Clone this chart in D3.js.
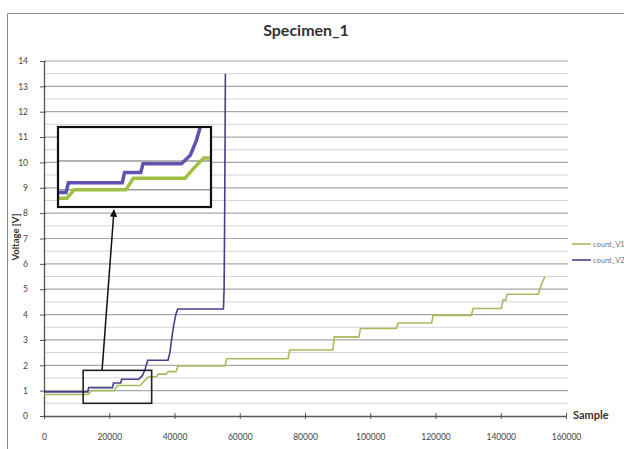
<!DOCTYPE html>
<head>
  <title>Specimen_1</title>
  <meta charset="utf-8">
  <script src="https://d3js.org/d3.v7.min.js"></script>
  <style>
    body { margin: 0; background: #fff; }
    text { font-family: Lato, "Liberation Sans", sans-serif; }
    .tick text { fill: #444; font-size: 8.5px; }
    .grid-major { stroke: #a8a8a8; stroke-width: 1.2; }
    .grid-minor { stroke: #d4d4d4; stroke-width: 1; }
  </style>
</head>
<body>
  <div class="container"></div>
  <script>
'use strict';
var width = 624;
var height = 449;

// tick labels
var xTicks = [0, 20000, 40000, 60000, 80000, 100000, 120000, 140000, 160000];
var yTicks = d3.range(0, 15);

// series: [sample, voltage]
var seriesNames = ['count_V1', 'count_V2'];
var greenPts = [[0,0.85],[13500,0.85],[14500,1.0],[21500,1.0],[22500,1.2],[29500,1.2],[30500,1.35],[32000,1.55],
  [34500,1.55],[35000,1.65],[37500,1.65],[38000,1.75],[40500,1.75],[41000,1.97],[55500,1.97],[56000,2.26],
  [74800,2.26],[75300,2.6],[88500,2.6],[89000,3.12],[96500,3.12],[97000,3.45],[108000,3.45],[108500,3.67],
  [118800,3.67],[119300,3.97],[131000,3.97],[131500,4.24],[140200,4.24],[140700,4.57],[141500,4.57],
  [142000,4.8],[151500,4.8],[152500,5.2],[153500,5.5]];
var bluePts = [[0,0.95],[13400,0.95],[13700,1.12],[21000,1.12],[21300,1.3],[23500,1.3],[23800,1.45],[29000,1.45],
  [30200,1.6],[31000,1.85],[31800,2.2],[38000,2.2],[38600,2.5],[39200,3.1],[39800,3.6],[40400,4.0],[41000,4.22],
  [55000,4.22],[55200,5.0],[55300,6.5],[55400,8.5],[55500,11],[55600,13.5]];

// zoom box (data coords) and inset view domain
var boxX = [12000, 33000];
var boxY = [0.5, 1.8];
var insetX = [12300, 33000];
var insetY = [0.7, 2.09];

var svg = d3.select('.container')
  .append('svg')
  .attr('width', width)
  .attr('height', height);

// outer chart frame
svg.append('path')
  .attr('d', 'M7.5,' + height + 'V13.5H' + width)
  .attr('fill', 'none')
  .attr('stroke', '#8a8a8a');

var x = d3.scaleLinear().domain([0, 160000]).range([44, 566]);
var y = d3.scaleLinear().domain([0, 14]).range([416, 61]);

// gridlines every 0.5 V
svg.append('g').selectAll('line')
  .data(d3.range(1, 29).map(function (i) { return i / 2; }))
  .enter().append('line')
  .attr('class', function (d) { return d % 1 === 0 ? 'grid-major' : 'grid-minor'; })
  .attr('x1', x(0)).attr('x2', x(160000) + 2)
  .attr('y1', function (d) { return y(d); })
  .attr('y2', function (d) { return y(d); });

// axes
var xAxis = svg.append('g')
  .attr('transform', 'translate(0,' + y(0) + ')')
  .call(d3.axisBottom(x).tickValues(xTicks).tickFormat(d3.format('d')).tickSizeOuter(0).tickPadding(12));
var yAxis = svg.append('g')
  .attr('transform', 'translate(' + x(0) + ',0)')
  .call(d3.axisLeft(y).tickValues(yTicks).tickSizeOuter(0).tickPadding(10));

xAxis.select('.domain').attr('stroke', '#555').attr('stroke-width', 1.3);
yAxis.select('.domain').attr('stroke', '#555').attr('stroke-width', 1.3);
xAxis.selectAll('.tick line').attr('y1', -3).attr('y2', 3).attr('stroke', '#555');
yAxis.selectAll('.tick line').attr('x1', -4).attr('x2', 2).attr('stroke', '#555');

// axis titles
svg.append('text')
  .attr('x', x(160000) + 7).attr('y', y(0) + 3)
  .attr('font-size', 11).attr('font-weight', 'bold').attr('fill', '#333')
  .text('Sample');
svg.append('text')
  .attr('transform', 'translate(19,' + 237 + ') rotate(-90)')
  .attr('text-anchor', 'middle')
  .attr('font-size', 9.5).attr('font-weight', 'bold').attr('fill', '#333')
  .text('Voltage [V]');

// title
svg.append('text')
  .attr('x', 306).attr('y', 36)
  .attr('text-anchor', 'middle')
  .attr('font-size', 16).attr('font-weight', 'bold').attr('fill', '#333')
  .text('Specimen_1');

var line = d3.line()
  .x(function (d) { return x(d[0]); })
  .y(function (d) { return y(d[1]); });

svg.append('path').datum(greenPts)
  .attr('d', line).attr('fill', 'none')
  .attr('stroke', '#a3bd5c').attr('stroke-width', 1.6);
svg.append('path').datum(bluePts)
  .attr('d', line).attr('fill', 'none')
  .attr('stroke', '#45408a').attr('stroke-width', 1.6);

// legend (runs off the right edge like the original)
var legend = svg.append('g');
[['#a3bd5c', 244], ['#45408a', 260]].forEach(function (c, i) {
  legend.append('line')
    .attr('x1', 572).attr('x2', 591).attr('y1', c[1]).attr('y2', c[1])
    .attr('stroke', c[0]).attr('stroke-width', 1.6);
  legend.append('text')
    .attr('x', 593).attr('y', c[1] + 2.5)
    .attr('font-size', 7.5).attr('fill', '#777')
    .text(seriesNames[i]);
});

// small zoom box
svg.append('rect')
  .attr('x', x(boxX[0])).attr('y', y(boxY[1]))
  .attr('width', x(boxX[1]) - x(boxX[0]))
  .attr('height', y(boxY[0]) - y(boxY[1]))
  .attr('fill', 'none').attr('stroke', '#222').attr('stroke-width', 1.6);

// inset
var ix0 = 58, ix1 = 211, iy0 = 127, iy1 = 207;
var xi = d3.scaleLinear().domain(insetX).range([ix0, ix1]);
var yi = d3.scaleLinear().domain(insetY).range([iy1, iy0]);

svg.append('clipPath').attr('id', 'inset-clip')
  .append('rect').attr('x', ix0).attr('y', iy0).attr('width', ix1 - ix0).attr('height', iy1 - iy0);

svg.append('rect')
  .attr('x', ix0).attr('y', iy0).attr('width', ix1 - ix0).attr('height', iy1 - iy0)
  .attr('fill', '#fff');

var inset = svg.append('g').attr('clip-path', 'url(#inset-clip)');
inset.selectAll('line')
  .data([1, 1.5])
  .enter().append('line')
  .attr('x1', ix0).attr('x2', ix1)
  .attr('y1', function (d) { return yi(d); })
  .attr('y2', function (d) { return yi(d); })
  .attr('stroke', '#999').attr('stroke-width', 1.6);

var lineI = d3.line()
  .x(function (d) { return xi(d[0]); })
  .y(function (d) { return yi(d[1]); });

inset.append('path').datum(greenPts)
  .attr('d', lineI).attr('fill', 'none')
  .attr('stroke', '#9fbf45').attr('stroke-width', 3.5);
inset.append('path').datum(bluePts)
  .attr('d', lineI).attr('fill', 'none')
  .attr('stroke', '#5f52b0').attr('stroke-width', 3.5);

svg.append('rect')
  .attr('x', ix0).attr('y', iy0).attr('width', ix1 - ix0).attr('height', iy1 - iy0)
  .attr('fill', 'none').attr('stroke', '#111').attr('stroke-width', 2.2);

// arrow from box to inset
svg.append('defs').append('marker')
  .attr('id', 'arrow')
  .attr('viewBox', '0 0 10 10')
  .attr('refX', 9).attr('refY', 5)
  .attr('markerWidth', 5).attr('markerHeight', 5)
  .attr('orient', 'auto')
  .append('path').attr('d', 'M0,0L10,5L0,10z').attr('fill', '#111');

svg.append('line')
  .attr('x1', x(17800)).attr('y1', y(boxY[1]))
  .attr('x2', 114).attr('y2', iy1 + 3)
  .attr('stroke', '#111').attr('stroke-width', 1.5)
  .attr('marker-end', 'url(#arrow)');
  </script>
</body>
